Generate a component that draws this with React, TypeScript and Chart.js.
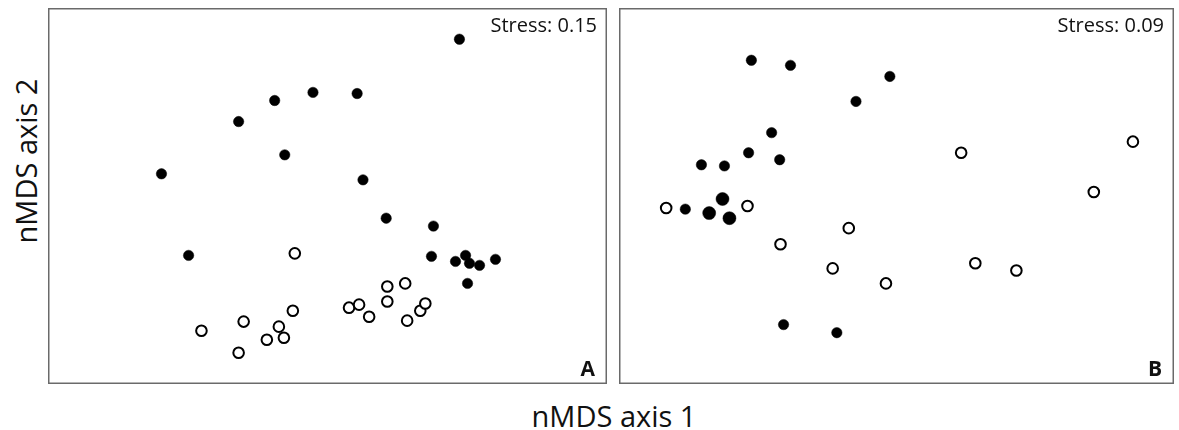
import React, { useEffect, useRef } from "react";
import { Chart, registerables } from "chart.js";

Chart.register(...registerables);

// Panel A (Stress 0.15)
const aFilledX = [-0.594, -0.497, -0.318, -0.189, -0.153, -0.052, 0.106, 0.472, 0.127, 0.21, 0.379, 0.372, 0.458, 0.494, 0.508, 0.544, 0.601, 0.501];
const aFilledY = [0.118, -0.316, 0.396, 0.508, 0.219, 0.551, 0.545, 0.834, 0.086, -0.118, -0.16, -0.321, -0.348, -0.316, -0.358, -0.369, -0.337, -0.465];
const aOpenX = [-0.117, -0.451, -0.3, -0.318, -0.217, -0.174, -0.156, -0.124, 0.077, 0.113, 0.149, 0.214, 0.214, 0.278, 0.285, 0.332, 0.35];
const aOpenY = [-0.305, -0.717, -0.668, -0.834, -0.765, -0.695, -0.754, -0.61, -0.594, -0.578, -0.642, -0.481, -0.561, -0.465, -0.663, -0.61, -0.572];

// Panel B (Stress 0.09)
const bFilledX = [-0.523, -0.382, -0.024, -0.146, -0.45, -0.533, -0.421, -0.703, -0.62, -0.761, -0.407, -0.215];
const bFilledY = [0.722, 0.695, 0.636, 0.503, 0.337, 0.23, 0.193, 0.166, 0.16, -0.07, -0.684, -0.727];
const bLargeX = [-0.627, -0.675, -0.602];
const bLargeY = [-0.016, -0.091, -0.118];
const bOpenX = [-0.83, -0.537, -0.172, -0.418, -0.23, -0.038, 0.233, 0.852, 0.711, 0.284, 0.432];
const bOpenY = [-0.064, -0.053, -0.171, -0.257, -0.385, -0.465, 0.23, 0.289, 0.021, -0.358, -0.396];

const stressLabels = ["Stress: 0.15", "Stress: 0.09"];
const panelLetters = ["A", "B"];
const axisTitleX = "nMDS axis 1";
const axisTitleY = "nMDS axis 2";

const toPts = (xs: number[], ys: number[]) => xs.map((x, i) => ({ x, y: ys[i] }));

const FONT = "'Open Sans', 'Noto Sans', sans-serif";

function makeFramePlugin(stress: string, letter: string) {
  return {
    id: "frame",
    afterDraw(chart: any) {
      const { ctx, chartArea } = chart;
      const { left, top, right, bottom } = chartArea;
      ctx.save();
      ctx.strokeStyle = "#6a6a6a";
      ctx.lineWidth = 1.5;
      ctx.strokeRect(left + 0.75, top + 0.75, right - left - 1.5, bottom - top - 1.5);
      ctx.fillStyle = "#111";
      ctx.textAlign = "right";
      ctx.textBaseline = "alphabetic";
      ctx.font = `20px ${FONT}`;
      ctx.fillText(stress, right - 10, top + 24);
      ctx.font = `bold 21px ${FONT}`;
      ctx.fillText(letter, right - 12, bottom - 8);
      ctx.restore();
    },
  };
}

function Panel({ datasets, stress, letter, style }: any) {
  const ref = useRef<HTMLCanvasElement>(null);
  useEffect(() => {
    if (!ref.current) return;
    const chart = new Chart(ref.current, {
      type: "scatter",
      data: { datasets },
      options: {
        animation: false,
        responsive: false,
        maintainAspectRatio: false,
        layout: { padding: 0, autoPadding: false },
        scales: {
          x: { type: "linear", min: -1, max: 1, display: false },
          y: { type: "linear", min: -1, max: 1, display: false },
        },
        plugins: { legend: { display: false }, tooltip: { enabled: false } },
      },
      plugins: [makeFramePlugin(stress, letter)],
    } as any);
    return () => chart.destroy();
  }, []);
  return (
    <canvas
      ref={ref}
      width={style.width}
      height={style.height}
      style={{ position: "absolute", ...style }}
    />
  );
}

const filledStyle = (r: number) => ({
  pointRadius: r,
  pointBackgroundColor: "#000",
  pointBorderColor: "#000",
  pointBorderWidth: 0.5,
  showLine: false,
});
const openStyle = {
  pointRadius: 5.3,
  pointBackgroundColor: "#fff",
  pointBorderColor: "#000",
  pointBorderWidth: 2,
  showLine: false,
};

export default function App() {
  const dsA = [
    { label: "open", data: toPts(aOpenX, aOpenY), ...openStyle },
    { label: "filled", data: toPts(aFilledX, aFilledY), ...filledStyle(5.2) },
  ];
  const dsB = [
    { label: "open", data: toPts(bOpenX, bOpenY), ...openStyle },
    { label: "filled", data: toPts(bFilledX, bFilledY), ...filledStyle(5.2) },
    { label: "filled large", data: toPts(bLargeX, bLargeY), ...filledStyle(6.5) },
  ];
  return (
    <div
      style={{
        position: "absolute",
        left: 0,
        top: 0,
        width: 1179,
        height: 430,
        background: "#fff",
        overflow: "hidden",
        fontFamily: FONT,
      }}
    >
      <Panel datasets={dsA} stress={stressLabels[0]} letter={panelLetters[0]} style={{ left: 48, top: 8, width: 559, height: 376 }} />
      <Panel datasets={dsB} stress={stressLabels[1]} letter={panelLetters[1]} style={{ left: 619, top: 8, width: 555, height: 376 }} />
      <div
        style={{
          position: "absolute",
          left: 25,
          top: 161,
          transform: "translate(-50%, -50%) rotate(-90deg)",
          whiteSpace: "nowrap",
          fontSize: 29,
          color: "#111",
          lineHeight: 1,
        }}
      >
        {axisTitleY}
      </div>
      <div
        style={{
          position: "absolute",
          left: 614,
          top: 415,
          transform: "translate(-50%, -50%)",
          whiteSpace: "nowrap",
          fontSize: 29,
          color: "#111",
          lineHeight: 1,
        }}
      >
        {axisTitleX}
      </div>
    </div>
  );
}
